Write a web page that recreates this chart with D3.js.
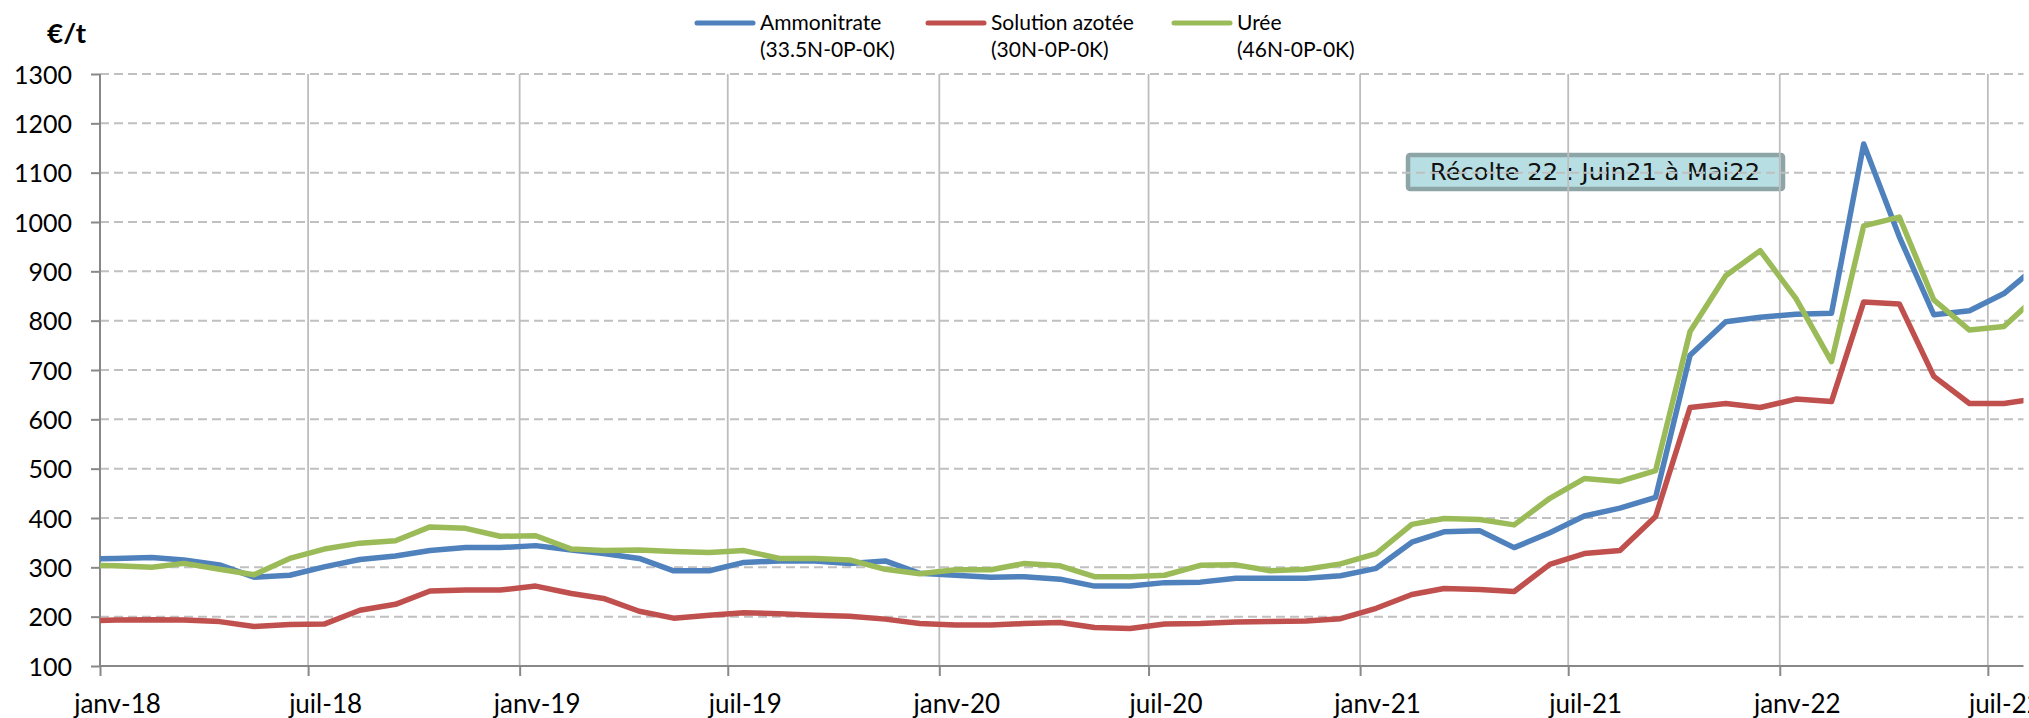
<!DOCTYPE html>
<html>
<head>
<meta charset="utf-8">
<script src="https://cdn.jsdelivr.net/npm/d3@7"></script>
<style>
  html, body { margin: 0; padding: 0; background: #fff; }
  svg { display: block; }
</style>
</head>
<body>
<div id="chart"></div>
<script>
// Prix des engrais azotés, €/t, un point par mois (milieu de mois)
const months = [
  "2017-12",
  "2018-01", "2018-02", "2018-03", "2018-04", "2018-05", "2018-06",
  "2018-07", "2018-08", "2018-09", "2018-10", "2018-11", "2018-12",
  "2019-01", "2019-02", "2019-03", "2019-04", "2019-05", "2019-06",
  "2019-07", "2019-08", "2019-09", "2019-10", "2019-11", "2019-12",
  "2020-01", "2020-02", "2020-03", "2020-04", "2020-05", "2020-06",
  "2020-07", "2020-08", "2020-09", "2020-10", "2020-11", "2020-12",
  "2021-01", "2021-02", "2021-03", "2021-04", "2021-05", "2021-06",
  "2021-07", "2021-08", "2021-09", "2021-10", "2021-11", "2021-12",
  "2022-01", "2022-02", "2022-03", "2022-04", "2022-05", "2022-06",
  "2022-07", "2022-08"
];

const ammonitrate = [
  317,
  318, 320, 315, 305, 280, 284, 301, 316, 323, 334, 340, 340,
  344, 335, 328, 318, 293, 293, 310, 313, 313, 308, 313, 288,
  284, 280, 281, 276, 262, 262, 269, 270, 278, 278, 278, 283,
  298, 351, 372, 374, 340, 370, 404, 420, 442, 730, 798, 807,
  813, 815, 1158, 970, 812, 820, 855, 915
];

const solutionAzotee = [
  191,
  193, 194, 193, 190, 180, 184, 185, 213, 225, 252, 254, 254,
  262, 247, 237, 211, 197, 203, 208, 206, 203, 201, 195, 186,
  183, 183, 186, 188, 178, 176, 185, 186, 189, 190, 191, 196,
  217, 245, 257, 255, 251, 306, 328, 334, 403, 624, 632, 624,
  641, 636, 838, 834, 687, 632, 632, 643
];

const uree = [
  305,
  303, 300, 308, 296, 285, 318, 337, 349, 354, 382, 379, 363,
  364, 337, 334, 335, 332, 330, 334, 318, 318, 315, 296, 287,
  295, 295, 308, 303, 281, 281, 284, 304, 305, 293, 296, 307,
  328, 387, 399, 397, 386, 440, 480, 474, 496, 778, 891, 942,
  845, 717, 992, 1010, 842, 781, 788, 855
];

const seriesNames = ["Ammonitrate", "Solution azotée", "Urée"];
const seriesSubtitles = ["(33.5N-0P-0K)", "(30N-0P-0K)", "(46N-0P-0K)"];
const seriesColors = ["#4f81bd", "#c0504d", "#9bbb59"];

const yTicks = [100, 200, 300, 400, 500, 600, 700, 800, 900, 1000, 1100, 1200, 1300];
const xTickLabels = ["janv-18", "juil-18", "janv-19", "juil-19", "janv-20",
  "juil-20", "janv-21", "juil-21", "janv-22", "juil-22"];

const annotationText = "Récolte 22 : Juin21 à Mai22";
const unitLabel = "€/t";

/**
 * drawChart
 *
 * Draws the three price lines in `selector`.
 */
const drawChart = function (selector) {
  const width = 2029;
  const height = 718;
  const font = "Lato, 'Open Sans', sans-serif";

  const parseMonth = d3.timeParse("%Y-%m");
  // points sit in the middle of their month
  const dates = months.map(m => {
    const d = parseMonth(m);
    return new Date(d.getFullYear(), d.getMonth(), 15);
  });

  const x = d3.scaleTime()
    .domain([new Date(2018, 0, 1), new Date(2022, 7, 1)])
    .range([100, 2023.5]);

  const y = d3.scaleLinear()
    .domain([100, 1300])
    .range([666, 74]);

  const tickDates = d3.timeMonth.every(6).range(new Date(2018, 0, 1), new Date(2022, 7, 2));

  const svg = d3.select(selector).append("svg")
    .attr("width", width)
    .attr("height", height)
    .attr("font-family", font);

  svg.append("defs").append("clipPath")
    .attr("id", "plot-clip")
    .append("rect")
    .attr("x", x.range()[0])
    .attr("y", 0)
    .attr("width", x.range()[1] - x.range()[0])
    .attr("height", height);

  // Annotation box, it sits behind the grid in the original
  const box = svg.append("g");
  box.append("rect")
    .attr("x", 1408)
    .attr("y", 155)
    .attr("width", 375)
    .attr("height", 34)
    .attr("rx", 2)
    .attr("fill", "#b7dfe3")
    .attr("stroke", "#8ea5a7")
    .attr("stroke-width", 4.5);
  box.append("text")
    .attr("x", 1595)
    .attr("y", 172)
    .attr("dy", "0.36em")
    .attr("text-anchor", "middle")
    .attr("font-family", "'DejaVu Sans', sans-serif")
    .attr("font-size", 23)
    .attr("textLength", 330)
    .attr("lengthAdjust", "spacingAndGlyphs")
    .attr("fill", "#111")
    .text(annotationText);

  // Horizontal dashed grid
  svg.append("g")
    .selectAll("line")
    .data(yTicks.filter(v => v > 100))
    .join("line")
    .attr("x1", x.range()[0])
    .attr("x2", x.range()[1])
    .attr("y1", d => y(d))
    .attr("y2", d => y(d))
    .attr("stroke", "#c0c0c0")
    .attr("stroke-width", 2)
    .attr("stroke-dasharray", "9,5");

  // Vertical grid every six months
  svg.append("g")
    .selectAll("line")
    .data(tickDates.slice(1))
    .join("line")
    .attr("x1", d => x(d))
    .attr("x2", d => x(d))
    .attr("y1", y(1300))
    .attr("y2", y(100))
    .attr("stroke", "#bdbdbd")
    .attr("stroke-width", 1.8);

  // Y axis
  const yAxis = svg.append("g")
    .attr("transform", `translate(${x.range()[0]},0)`)
    .call(d3.axisLeft(y).tickValues(yTicks).tickSize(9).tickPadding(19).tickFormat(d3.format("d")));
  yAxis.select(".domain").attr("stroke", "#888").attr("stroke-width", 2)
    .attr("d", `M0,${y(1300)}V${y(100)}`);
  yAxis.selectAll(".tick line").attr("stroke", "#888").attr("stroke-width", 2);
  yAxis.selectAll(".tick text")
    .attr("font-family", font)
    .attr("font-size", 25)
    .attr("fill", "#000")
    .attr("dy", "0.36em");

  // X axis
  const xAxis = svg.append("g")
    .attr("transform", `translate(0,${y(100)})`)
    .call(d3.axisBottom(x).tickValues(tickDates).tickSize(10).tickPadding(0)
      .tickFormat((d, i) => xTickLabels[i]));
  xAxis.select(".domain").attr("stroke", "#888").attr("stroke-width", 2)
    .attr("d", `M${x.range()[0]},0H${x.range()[1]}`);
  xAxis.selectAll(".tick line").attr("stroke", "#888").attr("stroke-width", 2);
  xAxis.selectAll(".tick text")
    .attr("font-family", font)
    .attr("font-size", 26)
    .attr("fill", "#000")
    .attr("x", 17)
    .attr("y", 47)
    .attr("dy", 0);

  // Unit label
  svg.append("text")
    .attr("x", 47)
    .attr("y", 43)
    .attr("font-size", 26)
    .attr("font-weight", "bold")
    .attr("textLength", 39)
    .attr("lengthAdjust", "spacingAndGlyphs")
    .text(unitLabel);

  // Price lines
  const series = [ammonitrate, solutionAzotee, uree];
  const line = d3.line()
    .x((d, i) => x(dates[i]))
    .y(d => y(d));

  svg.append("g")
    .attr("clip-path", "url(#plot-clip)")
    .selectAll("path")
    .data(series)
    .join("path")
    .attr("fill", "none")
    .attr("stroke", (d, i) => seriesColors[i])
    .attr("stroke-width", 5.5)
    .attr("stroke-linejoin", "round")
    .attr("d", line);

  // Legend
  const legendX = [695, 926, 1172];
  const legend = svg.append("g")
    .selectAll("g")
    .data(seriesNames)
    .join("g")
    .attr("transform", (d, i) => `translate(${legendX[i]},0)`);

  legend.append("line")
    .attr("x1", 2)
    .attr("x2", 58)
    .attr("y1", 23)
    .attr("y2", 23)
    .attr("stroke", (d, i) => seriesColors[i])
    .attr("stroke-width", 5)
    .attr("stroke-linecap", "round");

  legend.append("text")
    .attr("x", 65)
    .attr("y", 29.5)
    .attr("font-size", 21)
    .text(d => d);

  legend.append("text")
    .attr("x", 65)
    .attr("y", 57)
    .attr("font-size", 21)
    .text((d, i) => seriesSubtitles[i]);
};

(function () {
  drawChart("#chart");
})();
</script>
</body>
</html>
